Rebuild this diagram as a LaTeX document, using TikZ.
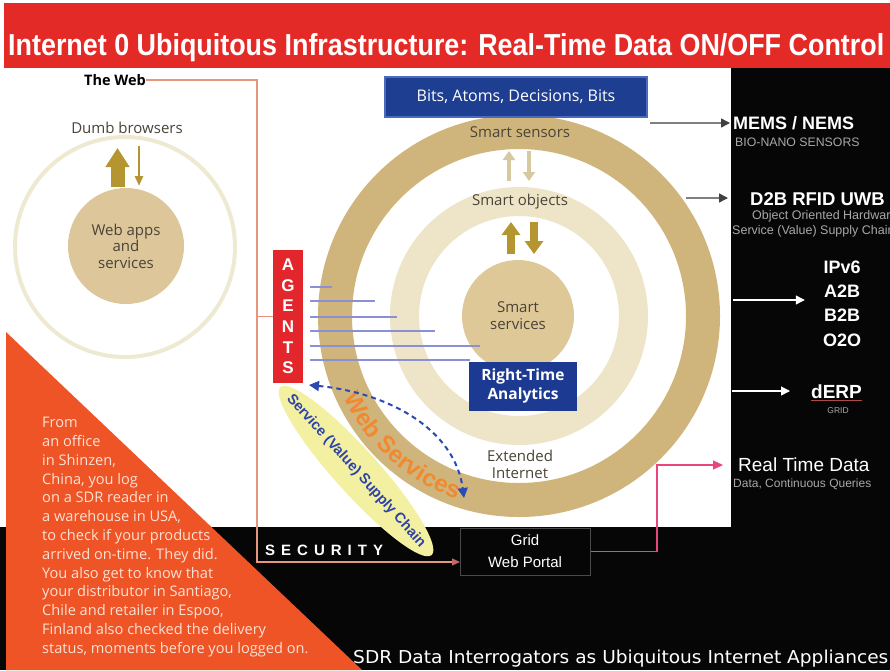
\documentclass[tikz,border=0pt]{standalone}
\usepackage{fontspec}
\setmainfont{Open Sans}
\newfontfamily\arialf{Liberation Sans}
\newfontfamily\dvs{DejaVu Sans}
\usetikzlibrary{arrows.meta,shapes.geometric,decorations.text}
\newcommand\fsz[2]{\fontsize{#1}{#2}\selectfont}
\newcommand\wsfont{\arialf\bfseries\fontsize{24}{28}\selectfont}
\definecolor{titlered}{HTML}{E42A27}
\definecolor{blackbg}{HTML}{060606}
\definecolor{orangebg}{HTML}{EE5426}
\definecolor{storytext}{HTML}{FCE2D4}
\definecolor{ringdark}{HTML}{CFB57C}
\definecolor{ringlight}{HTML}{EEE5C9}
\definecolor{innerfill}{HTML}{DEC897}
\definecolor{leftfill}{HTML}{DCC69A}
\definecolor{leftring}{HTML}{EEEAD2}
\definecolor{arrowgold}{HTML}{B5952F}
\definecolor{arrowlight}{HTML}{D6C89F}
\definecolor{bluebox}{HTML}{1E3E92}
\definecolor{blueborder}{HTML}{4A6BBE}
\definecolor{rtbox}{HTML}{1D3A93}
\definecolor{agentred}{HTML}{E3262B}
\definecolor{agentc}{HTML}{8B90D4}
\definecolor{webline}{HTML}{E8957E}
\definecolor{pinkline}{HTML}{E8467C}
\definecolor{ellyellow}{HTML}{F4F0A2}
\definecolor{ellblue}{HTML}{2D44A5}
\definecolor{wsorange}{HTML}{F08A32}
\definecolor{dashblue}{HTML}{2B4BB0}
\definecolor{greytext}{HTML}{A8A8A8}
\definecolor{labelgrey}{HTML}{4A4438}
\definecolor{gridborder}{HTML}{4A4A4A}
\definecolor{derpline}{HTML}{B04848}
\begin{document}
\begin{tikzpicture}[x=1pt,y=-1pt,
  lbl/.style={inner sep=0, text=labelgrey, font=\fsz{15}{17}, align=center},
  rlab/.style={inner sep=0, text=white, font=\arialf\bfseries\fsz{18}{22}, anchor=base west},
  sublab/.style={inner sep=0, text=greytext, font=\arialf\fsz{12}{14}, anchor=base west},
  agentline/.style={draw=agentc, line width=1.5pt, shorten <=7pt},
  weblink/.style={draw=webline, line width=1.2pt},
  greyarrow/.style={draw=gray, line width=1.5pt, -{Triangle[width=9pt,length=9pt,color=black!75]}},
  whitearrow/.style={draw=white, line width=1.2pt, -{Triangle[width=9pt,length=9pt]}},
  bigarrow/.style={draw=arrowgold, line width=#1},
]
\useasboundingbox (0,0) rectangle (890,670);
\clip (0,0) rectangle (890,670);
% backgrounds
\fill[white] (0,0) rectangle (890,670);
\fill[titlered] (4,3) rectangle (890,68);
\fill[blackbg] (731,68) rectangle (890,670);
\fill[blackbg] (0,527) rectangle (890,670);
\fill[orangebg] (6,332) -- (6,670) -- (362,670) -- cycle;
% title
\node[anchor=base west, inner sep=0, text=white] (title) at (8,55)
  {\resizebox{876pt}{22pt}{\arialf\bfseries Internet 0 Ubiquitous Infrastructure: Real-Time Data ON/OFF Control}};
% left: the web
\draw[leftring, line width=4pt] (125,247) circle[radius=110];
\node[circle, fill=leftfill, minimum size=116pt, inner sep=0, align=center, text=labelgrey, font=\fsz{15}{16.5}] (webapps) at (126,246) {Web apps\\and\\services};
\node[lbl] (dumb) at (127,128) {Dumb browsers};
\node[inner sep=0, font=\bfseries\fsz{14.5}{17}, text=black] (theweb) at (115,80) {The Web};
\draw[bigarrow=14pt, -{Triangle[width=23pt,length=19pt]}] (117.5,187) -- (117.5,148);
\draw[bigarrow=2.5pt, -{Triangle[width=8pt,length=10pt]}] (139,146) -- (139,186);
% central rings
\fill[ringdark, even odd rule] (519,316) circle[radius=201] (519,316) circle[radius=167];
\fill[ringlight, even odd rule] (519,316) circle[radius=129] (519,316) circle[radius=100];
\node[circle, fill=innerfill, minimum size=112pt, inner sep=0, align=center, text=labelgrey, font=\fsz{15}{17}] (smartsvc) at (518,316) {Smart\\services};
\node[lbl] (sensors) at (520,132) {Smart sensors};
\node[lbl] (objects) at (520,202) {Smart objects};
\node[lbl] (extint) at (520,464) {Extended\\Internet};
\draw[draw=arrowlight, line width=3.5pt, -{Triangle[width=12pt,length=9pt]}] (509,181) -- (509,151);
\draw[draw=arrowlight, line width=3.5pt, -{Triangle[width=12pt,length=9pt]}] (529,151) -- (529,181);
\draw[bigarrow=8pt, -{Triangle[width=18pt,length=13pt]}] (511,254) -- (511,222);
\draw[bigarrow=8pt, -{Triangle[width=18pt,length=13pt]}] (534,222) -- (534,254);
\node[fill=bluebox, draw=blueborder, line width=1.5pt, minimum width=262pt, minimum height=40pt, inner sep=0, text=white, font=\fsz{16}{18}] (bits) at (516,97) {Bits, Atoms, Decisions, Bits};
% agents
\node[fill=agentred, minimum width=30pt, minimum height=133pt, inner sep=0, text=white, font=\arialf\bfseries\fsz{17}{20.6}, align=center] (agents) at (288,316.5) {A\\G\\E\\N\\T\\S};
\foreach \i/\xx/\yy in {1/332/287, 2/375/301, 3/397/317, 4/435/331, 5/480/346, 6/470/360} {
  \coordinate (al\i) at (\xx,\yy);
  \draw[agentline] (al\i -| agents.east) -- (al\i);
}
\node[fill=rtbox, minimum width=108pt, minimum height=49pt, inner sep=0, text=white, font=\bfseries\fsz{15.5}{19}, align=center] (rta) at (523,386) {Right-Time\\Analytics};
% service supply chain and web services
\node[ellipse, fill=ellyellow, minimum width=226pt, minimum height=44pt, rotate=-48, inner sep=0] (svcchain) at (356,471) {};
\node[rotate=-48, inner sep=0, text=ellblue, font=\arialf\bfseries\fsz{14.5}{16}] (svctext) at (svcchain.center) {Service (Value) Supply Chain};
\path[decorate, decoration={text along path, text align=center, text color=wsorange, text={|\wsfont|Web Services}}]
  (519,316) ++(158:193) arc[start angle=158, end angle=106, radius=193];
\coordinate (dA) at (309,385);
\coordinate (dB) at (464,498);
\draw[dashblue, line width=2pt, dash pattern=on 5pt off 4pt, {Triangle[width=10pt,length=10pt]}-{Triangle[width=10pt,length=10pt]}] (dA) .. controls (390,393) and (455,430) .. (dB);
% bottom
\node[draw=gridborder, line width=1pt, minimum width=130pt, minimum height=47pt, inner sep=0, text=white, font=\arialf\fsz{15}{22}, align=center] (grid) at (525,551.5) {Grid\\Web Portal};
\node[anchor=base west, inner sep=0, text=white, font=\arialf\bfseries\fsz{15}{18}] (sec) at (265,555) {S\hspace{6pt}E\hspace{6pt}C\hspace{6pt}U\hspace{6pt}R\hspace{6pt}I\hspace{6pt}T\hspace{6pt}Y};
\node[anchor=base west, inner sep=0, text=white] (sdr) at (353,663) {\resizebox{535pt}{13.5pt}{\dvs SDR Data Interrogators as Ubiquitous Internet Appliances}};
\node[anchor=north west, inner sep=0, align=left, text=storytext, font=\fsz{14.6}{18.8}] (story) at (42,417) {From\\an office\\in Shinzen,\\China, you log\\on a SDR reader in\\a warehouse in USA,\\to check if your products\\arrived on-time. They did.\\You also get to know that\\your distributor in Santiago,\\Chile and retailer in Espoo,\\Finland also checked the delivery\\status, moments before you logged on.};
% right column
\node[rlab] (mems) at (733,129.5) {MEMS / NEMS};
\node[sublab, font=\arialf\fsz{12.3}{14}] (bio) at (735,146) {BIO-NANO SENSORS};
\node[rlab, font=\arialf\bfseries\fsz{18.5}{22}] (d2b) at (750,205) {D2B RFID UWB};
\node[sublab, font=\arialf\fsz{12.5}{14}] (ooh) at (752,219) {Object Oriented Hardware};
\node[sublab, font=\arialf\fsz{12.5}{14}] (svcsub) at (732,234) {Service (Value) Supply Chain};
\node[align=center, inner sep=0, text=white, font=\arialf\bfseries\fsz{18}{24.3}] (ipv) at (842,303.5) {IPv6\\A2B\\B2B\\O2O};
\node[rlab, font=\arialf\bfseries\fsz{19}{22}] (derp) at (811,398) {dERP};
\draw[derpline, line width=1.2pt] ([yshift=-2pt]derp.south west) -- ([yshift=-2pt]derp.south east);
\node[inner sep=0, text=greytext, font=\arialf\fsz{8.5}{10}, anchor=base] (gridlbl) at (838,413.5) {GRID};
\node[rlab, font=\arialf\fsz{19}{22}] (rtd) at (738,471.5) {Real Time Data};
\node[sublab] (dcq) at (733,487) {Data, Continuous Queries};
% connectors
\coordinate (memsfrom) at (650,123);
\draw[greyarrow, shorten >=3pt] (memsfrom) -- (memsfrom -| mems.west);
\coordinate (d2bfrom) at (686,198);
\draw[greyarrow, shorten >=22pt] (d2bfrom) -- (d2bfrom -| d2b.west);
\coordinate (a2bfrom) at (733,300);
\draw[whitearrow, shorten >=18pt] (a2bfrom) -- (a2bfrom -| ipv.west);
\coordinate (derpfrom) at (732,391);
\draw[whitearrow, shorten >=21pt] (derpfrom) -- (derpfrom -| derp.west);
\coordinate (vbend) at (257,300);
\coordinate (gridin) at (460,562);
\draw[weblink, -{Triangle[width=7pt,length=8pt,color=black!40!red!60]}] (theweb.east) -| (vbend) |- (gridin);
\draw[weblink] (agents.west) -- (agents.west -| vbend);
\coordinate (pinkbend) at (657,465);
\coordinate (rtdin) at (723,465);
\draw[draw=pinkline, line width=1.2pt, -{Triangle[width=9pt,length=10pt]}] (grid.east) -| (pinkbend) -- (rtdin);
\end{tikzpicture}
\end{document}
